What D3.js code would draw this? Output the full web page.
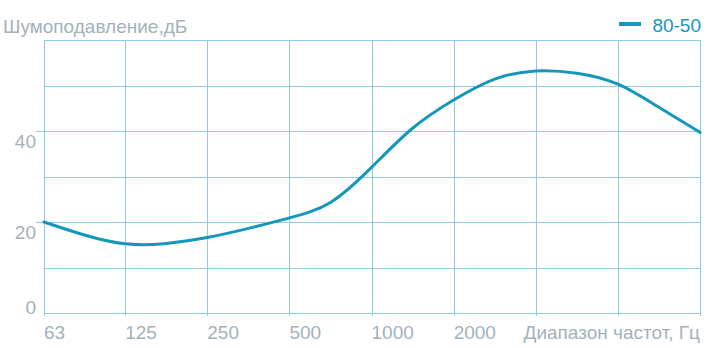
<!DOCTYPE html>
<html>
<head>
<meta charset="utf-8">
<script src="https://cdn.jsdelivr.net/npm/d3@7"></script>
<style>
  body { margin: 0; background: #fff; }
  text { font-family: "Liberation Sans", Arial, sans-serif; }
</style>
</head>
<body>
<svg id="chart"></svg>
<script>
const TITLE = 'Шумоподавление,дБ'
const X_TITLE = 'Диапазон частот, Гц'
const SERIES_NAME = '80-50'

// octave bands shown as grid lines, only the first six are labelled
const BANDS = [63, 125, 250, 500, 1000, 2000, 4000, 8000, 16000]
const BAND_LABELS = ['63', '125', '250', '500', '1000', '2000']
const Y_TICKS = [0, 20, 40]

// curve, every half octave
const FREQ = [63, 88, 125, 177, 250, 354, 500, 707, 1000, 1414, 2000, 2828, 4000, 5657, 8000, 11314, 16000]
const DB = [20, 17.2, 15.2, 15.3, 16.6, 18.6, 20.9, 24.3, 32, 40.6, 46.8, 51.4, 53.2, 52.7, 50.3, 45.2, 39.7]

const width = 709
const height = 348
const margin = { top: 40, right: 9, bottom: 35, left: 44 }

const gridColor = '#8fcbe3'
const lineColor = '#1597bb'
const textColor = '#a3b1bd'
const fontSize = '19px'

const svg = d3.select('#chart')
    .attr('width', width)
    .attr('height', height)

const x = d3.scaleLog()
    .base(2)
    .domain([63, 16000])
    .range([margin.left, width - margin.right])

const y = d3.scaleLinear()
    .domain([0, 60])
    .range([height - margin.bottom, margin.top])

// horizontal grid, every 10 dB
svg.append('g')
    .selectAll('line')
    .data(d3.range(0, 61, 10))
    .enter().append('line')
    .attr('x1', d => Y_TICKS.includes(d) && d > 0 ? margin.left - 8 : margin.left)
    .attr('x2', width - margin.right)
    .attr('y1', d => Math.round(y(d)) + 0.5)
    .attr('y2', d => Math.round(y(d)) + 0.5)
    .attr('stroke', gridColor)
    .attr('stroke-width', 1)

// vertical grid
svg.append('g')
    .selectAll('line')
    .data(BANDS)
    .enter().append('line')
    .attr('x1', d => Math.round(x(d)) + 0.5)
    .attr('x2', d => Math.round(x(d)) + 0.5)
    .attr('y1', y(60))
    .attr('y2', y(0) + 3)
    .attr('stroke', gridColor)
    .attr('stroke-width', 1)

// y labels
svg.append('g')
    .selectAll('text')
    .data(Y_TICKS)
    .enter().append('text')
    .attr('x', margin.left - 8)
    .attr('y', d => d === 0 ? y(d) - 6 : y(d) + 10)
    .attr('dy', '.35em')
    .attr('text-anchor', 'end')
    .attr('fill', textColor)
    .style('font-size', fontSize)
    .text(d => d)

// x labels
svg.append('g')
    .selectAll('text')
    .data(BAND_LABELS)
    .enter().append('text')
    .attr('x', (d, i) => x(BANDS[i]))
    .attr('y', y(0) + 19)
    .attr('dy', '.35em')
    .attr('fill', textColor)
    .style('font-size', fontSize)
    .text(d => d)

svg.append('text')
    .attr('x', width - margin.right)
    .attr('y', y(0) + 19)
    .attr('dy', '.35em')
    .attr('text-anchor', 'end')
    .attr('fill', textColor)
    .style('font-size', fontSize)
    .text(X_TITLE)

svg.append('text')
    .attr('x', 3)
    .attr('y', 26)
    .attr('dy', '.35em')
    .attr('fill', textColor)
    .style('font-size', fontSize)
    .text(TITLE)

// legend
svg.append('line')
    .attr('x1', 619)
    .attr('x2', 641)
    .attr('y1', 24)
    .attr('y2', 24)
    .attr('stroke', lineColor)
    .attr('stroke-width', 4)

svg.append('text')
    .attr('x', width - 8)
    .attr('y', 25)
    .attr('dy', '.35em')
    .attr('text-anchor', 'end')
    .attr('fill', lineColor)
    .style('font-size', fontSize)
    .text(SERIES_NAME)

// curve
const line = d3.line()
    .x((d, i) => x(FREQ[i]))
    .y(d => y(d))
    .curve(d3.curveNatural)

svg.append('path')
    .datum(DB)
    .attr('d', line)
    .attr('fill', 'none')
    .attr('stroke', lineColor)
    .attr('stroke-width', 3)
    .attr('stroke-linecap', 'round')
</script>
</body>
</html>
